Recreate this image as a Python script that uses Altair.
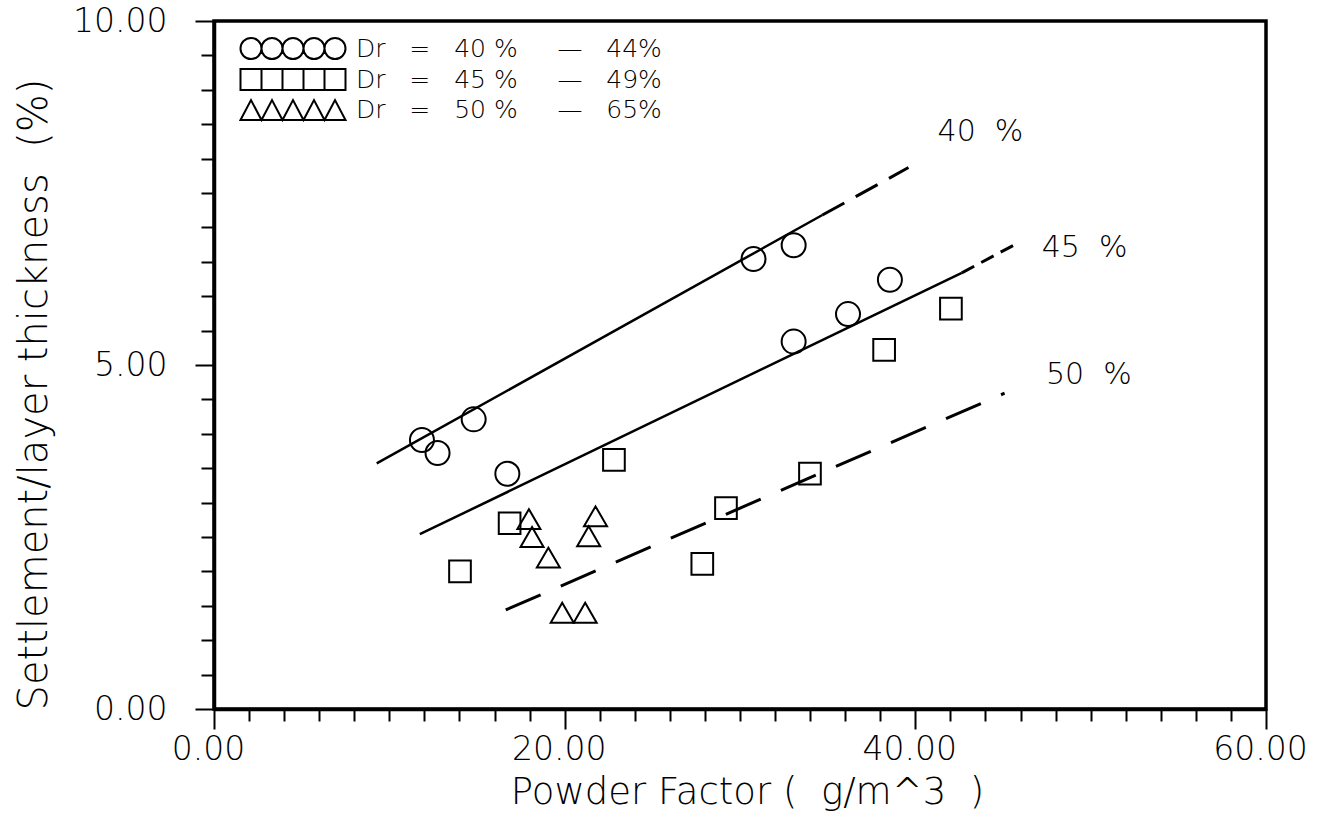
import altair as alt
import pandas as pd

FONT = "DejaVu Sans"
WEIGHT = 200
NB = "\u00a0"

# Measured points: powder factor (g/m^3) against settlement / layer thickness (%)
circle_x = [11.86, 12.75, 14.81, 16.73, 30.77, 33.06, 33.06, 36.16, 38.55]
circle_y = [3.91, 3.72, 4.21, 3.42, 6.54, 6.74, 5.34, 5.74, 6.24]
square_x = [14.03, 16.86, 22.81, 27.85, 29.20, 33.99, 38.22, 42.03]
square_y = [2.00, 2.70, 3.62, 2.11, 2.92, 3.42, 5.22, 5.82]
triangle_x = [17.96, 18.14, 19.07, 21.76, 21.37, 19.86, 21.17]
triangle_y = [2.76, 2.50, 2.20, 2.80, 2.51, 1.40, 1.40]

# Trend lines: fitted (solid) stretch, then extrapolated (dashed) stretch
solid_x1 = [9.28, 11.74]
solid_y1 = [3.57, 2.54]
solid_x2 = [34.70, 42.65]
solid_y2 = [7.18, 6.34]

dashed_name = ["40", "45", "50"]
dashed_x1 = [34.70, 42.65, 16.64]
dashed_y1 = [7.18, 6.34, 1.44]
dashed_x2 = [39.61, 45.68, 45.09]
dashed_y2 = [7.87, 6.75, 4.59]

# Line labels
label_text = ["40" + NB * 2 + "%", "45" + NB * 2 + "%", "50" + NB * 2 + "%"]
label_x = [41.27, 47.21, 47.45]
label_y = [8.39, 6.70, 4.86]

# Legend entries
legend_labels = [
    "Dr" + NB * 3 + "=" + NB * 3 + "40" + NB + "%" + NB * 5 + "\u2014" + NB * 3 + "44%",
    "Dr" + NB * 3 + "=" + NB * 3 + "45" + NB + "%" + NB * 5 + "\u2014" + NB * 3 + "49%",
    "Dr" + NB * 3 + "=" + NB * 3 + "50" + NB + "%" + NB * 5 + "\u2014" + NB * 3 + "65%",
]
# Row-of-five symbols for each legend entry (unit path, scaled by the symbol size)
five_circles = "".join(
    f"M{c + 1},0A1,1,0,1,1,{c - 1},0A1,1,0,1,1,{c + 1},0Z" for c in (1, 3, 5, 7, 9)
)
five_squares = "M0,-1H10V1H0ZM2,-1V1M4,-1V1M6,-1V1M8,-1V1"
five_triangles = "M0,1L1,-0.9L2,1L3,-0.9L4,1L5,-0.9L6,1L7,-0.9L8,1L9,-0.9L10,1Z"

circles_df = pd.DataFrame({"pf": circle_x, "s": circle_y})
squares_df = pd.DataFrame({"pf": square_x, "s": square_y})
triangles_df = pd.DataFrame({"pf": triangle_x, "s": triangle_y})
solid_df = pd.DataFrame({"x1": solid_x1, "y1": solid_y1, "x2": solid_x2, "y2": solid_y2})
dashed_df = pd.DataFrame(
    {"name": dashed_name, "x1": dashed_x1, "y1": dashed_y1, "x2": dashed_x2, "y2": dashed_y2}
)
labels_df = pd.DataFrame({"pf": label_x, "s": label_y, "text": label_text})
legend_df = pd.DataFrame({"Dr": legend_labels})

x_scale = alt.Scale(domain=[0, 60], nice=False, zero=False)
y_scale = alt.Scale(domain=[0, 10], nice=False, zero=False)

x_axis = alt.Axis(
    values=list(range(0, 61, 2)),
    labelExpr="datum.value % 20 === 0 ? format(datum.value, '.2f') : ''",
    tickSize={"condition": {"test": "datum.value % 20 === 0", "value": 20}, "value": 12},
    tickWidth=2,
    tickColor="black",
    domainColor="black",
    domainWidth=3.5,
    grid=False,
    labelFontSize=33,
    labelPadding=4,
    labelOffset=-6,
    labelFlush=False,
    labelOverlap=False,
    title="Powder Factor" + NB + "(" + NB * 2 + "g/m^3" + NB * 2 + ")",
    titleFontSize=37,
    titlePadding=8,
    titleX=533,
)
y_axis = alt.Axis(
    values=[i * 0.5 for i in range(21)],
    labelExpr="datum.value % 5 === 0 ? format(datum.value, '.2f') : ''",
    tickSize={"condition": {"test": "datum.value % 5 === 0", "value": 19}, "value": 13},
    tickWidth=2,
    tickColor="black",
    domainColor="black",
    domainWidth=3.5,
    grid=False,
    labelFontSize=33,
    labelPadding=28,
    labelFlush=False,
    labelOverlap=False,
    title="Settlement/layer thickness" + NB * 2 + "(%)",
    titleFontSize=40,
    titlePadding=18,
    titleY=373,
)


def xy(xf="pf", yf="s"):
    return dict(
        x=alt.X(f"{xf}:Q", scale=x_scale, axis=x_axis),
        y=alt.Y(f"{yf}:Q", scale=y_scale, axis=y_axis),
    )


solid = alt.Chart(solid_df).mark_rule(color="black", strokeWidth=2.5).encode(
    **xy("x1", "y1"), x2="x2:Q", y2="y2:Q"
)


def dashed(name, dash, width):
    return (
        alt.Chart(dashed_df)
        .transform_filter(alt.datum.name == name)
        .mark_rule(color="black", strokeWidth=width, strokeDash=dash)
        .encode(**xy("x1", "y1"), x2="x2:Q", y2="y2:Q")
    )


dash40 = dashed("40", [25, 13], 3)
dash45 = dashed("45", [14, 8], 3)
dash50 = dashed("50", [38, 22], 3)

circles = alt.Chart(circles_df).mark_point(
    shape="circle", size=576, filled=False, color="black", strokeWidth=2, opacity=1
).encode(**xy())
squares = alt.Chart(squares_df).mark_point(
    shape="square", size=470, filled=False, color="black", strokeWidth=2, opacity=1
).encode(**xy())
triangles = alt.Chart(triangles_df).mark_point(
    shape="triangle-up", size=530, filled=False, color="black", strokeWidth=2, opacity=1
).encode(**xy())

line_labels = alt.Chart(labels_df).mark_text(
    font=FONT, fontSize=30, fontWeight=WEIGHT, align="left", baseline="middle", color="black"
).encode(**xy(), text="text:N")

legend_layer = alt.Chart(legend_df).mark_point(
    filled=False, color="black", opacity=0
).encode(
    shape=alt.Shape(
        "Dr:N",
        scale=alt.Scale(domain=legend_labels, range=[five_circles, five_squares, five_triangles]),
        legend=alt.Legend(
            orient="none",
            legendX=14,
            legendY=15,
            title=None,
            labelFont=FONT,
            labelFontSize=25,
            labelFontWeight=WEIGHT,
            labelColor="black",
            labelLimit=0,
            labelOffset=103,
            symbolSize=441,
            symbolStrokeWidth=2,
            symbolStrokeColor="black",
            symbolFillColor="transparent",
            symbolOpacity=1,
            rowPadding=2,
            padding=0,
        ),
    )
)

chart = (
    alt.layer(solid, dash40, dash45, dash50, circles, squares, triangles, line_labels, legend_layer)
    .properties(
        width=1052,
        height=688,
        background="white",
        padding={"left": 14, "top": 5, "right": 5, "bottom": 5},
    )
    .configure_view(stroke="black", strokeWidth=3.5)
    .configure_axis(
        labelFont=FONT,
        titleFont=FONT,
        labelColor="black",
        titleColor="black",
        labelFontWeight=WEIGHT,
        titleFontWeight=WEIGHT,
    )
)

chart.save("out.html", embed_options={"renderer": "svg", "actions": False})
